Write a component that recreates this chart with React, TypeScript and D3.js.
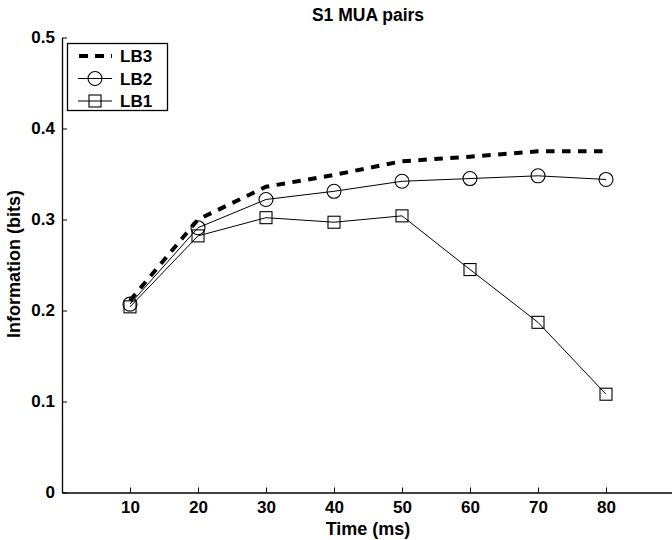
import { useRef, useEffect } from "react";
import * as d3 from "d3";

const times = [10, 20, 30, 40, 50, 60, 70, 80];
const lb3 = [0.211, 0.3, 0.336, 0.349, 0.364, 0.369, 0.375, 0.375];
const lb2 = [0.207, 0.291, 0.322, 0.331, 0.342, 0.345, 0.348, 0.344];
const lb1 = [0.204, 0.282, 0.302, 0.297, 0.304, 0.245, 0.187, 0.108];
const xTicks = [10, 20, 30, 40, 50, 60, 70, 80];
const yTicks = [0, 0.1, 0.2, 0.3, 0.4, 0.5];
const legendNames = ["LB3", "LB2", "LB1"];

const W = 672;
const H = 540;

const App = () => {
  const svgRef = useRef<SVGSVGElement>(null);

  useEffect(() => {
    const svg = d3.select(svgRef.current);
    svg.selectAll("*").remove();
    const font = "'Liberation Sans', Arial, sans-serif";

    const x = d3.scaleLinear().domain([0, 90]).range([62, 674]);
    const y = d3.scaleLinear().domain([0, 0.5]).range([492.5, 37.5]);

    const g = svg.append("g");

    // axes, ticks point inwards
    const xAxis = g
      .append("g")
      .attr("transform", `translate(0,${y(0)})`)
      .call(d3.axisBottom(x).tickValues(xTicks).tickSizeInner(-5).tickSizeOuter(0).tickPadding(8));
    const yAxis = g
      .append("g")
      .attr("transform", `translate(${x(0)},0)`)
      .call(
        d3.axisLeft(y).tickValues(yTicks).tickSizeInner(-5).tickSizeOuter(0).tickPadding(7)
          .tickFormat((d) => (d === 0 ? "0" : d3.format(".1f")(d as number)))
      );
    [xAxis, yAxis].forEach((a) => {
      a.select(".domain").attr("stroke", "#000").attr("stroke-width", 1.3);
      a.selectAll(".tick line").attr("stroke", "#000");
      a.selectAll(".tick text")
        .attr("fill", "#000")
        .style("font-family", font)
        .style("font-weight", "bold")
        .style("font-size", "17px");
    });

    const line = d3
      .line<number>()
      .x((_, i) => x(times[i]))
      .y((d) => y(d));

    // LB3 dashed
    g.append("path")
      .datum(lb3)
      .attr("d", line)
      .attr("fill", "none")
      .attr("stroke", "#000")
      .attr("stroke-width", 4)
      .attr("stroke-dasharray", "8.5,7.5");

    // LB2 circles
    g.append("path").datum(lb2).attr("d", line).attr("fill", "none").attr("stroke", "#000").attr("stroke-width", 1);
    g.selectAll("circle.lb2")
      .data(lb2)
      .join("circle")
      .attr("class", "lb2")
      .attr("cx", (_, i) => x(times[i]))
      .attr("cy", (d) => y(d))
      .attr("r", 7)
      .attr("fill", "none")
      .attr("stroke", "#000")
      .attr("stroke-width", 1.1);

    // LB1 squares
    g.append("path").datum(lb1).attr("d", line).attr("fill", "none").attr("stroke", "#000").attr("stroke-width", 1);
    g.selectAll("rect.lb1")
      .data(lb1)
      .join("rect")
      .attr("class", "lb1")
      .attr("x", (_, i) => x(times[i]) - 6)
      .attr("y", (d) => y(d) - 6)
      .attr("width", 12)
      .attr("height", 12)
      .attr("fill", "none")
      .attr("stroke", "#000")
      .attr("stroke-width", 1.1);

    // title and labels
    svg.append("text")
      .attr("x", 368).attr("y", 21)
      .attr("text-anchor", "middle")
      .style("font-family", font).style("font-weight", "bold").style("font-size", "17.5px")
      .text("S1 MUA pairs");
    svg.append("text")
      .attr("x", 368).attr("y", 535)
      .attr("text-anchor", "middle")
      .style("font-family", font).style("font-weight", "bold").style("font-size", "18px")
      .text("Time (ms)");
    svg.append("text")
      .attr("transform", `translate(20,264) rotate(-90)`)
      .attr("text-anchor", "middle")
      .style("font-family", font).style("font-weight", "bold").style("font-size", "18px")
      .text("Information (bits)");

    // legend
    const leg = svg.append("g");
    leg.append("rect")
      .attr("x", 67.5).attr("y", 43.5).attr("width", 100).attr("height", 67)
      .attr("fill", "#fff").attr("stroke", "#000").attr("stroke-width", 1.3);
    legendNames.forEach((name, i) => {
      const cy = 56 + i * 22.5;
      if (i === 0) {
        leg.append("line")
          .attr("x1", 79).attr("x2", 112).attr("y1", cy).attr("y2", cy)
          .attr("stroke", "#000").attr("stroke-width", 4).attr("stroke-dasharray", "9,7");
      } else {
        leg.append("line")
          .attr("x1", 78).attr("x2", 112).attr("y1", cy).attr("y2", cy)
          .attr("stroke", "#000").attr("stroke-width", 1);
        if (i === 1) {
          leg.append("circle").attr("cx", 95).attr("cy", cy).attr("r", 7)
            .attr("fill", "none").attr("stroke", "#000").attr("stroke-width", 1.1);
        } else {
          leg.append("rect").attr("x", 89).attr("y", cy - 6).attr("width", 12).attr("height", 12)
            .attr("fill", "none").attr("stroke", "#000").attr("stroke-width", 1.1);
        }
      }
      leg.append("text")
        .attr("x", 120).attr("y", cy + 6)
        .style("font-family", font).style("font-weight", "bold").style("font-size", "17px")
        .text(name);
    });
  }, []);

  return (
    <svg
      ref={svgRef}
      width={W}
      height={H}
      style={{ position: "absolute", left: 0, top: 0, background: "#fff" }}
    />
  );
};

export default App;
